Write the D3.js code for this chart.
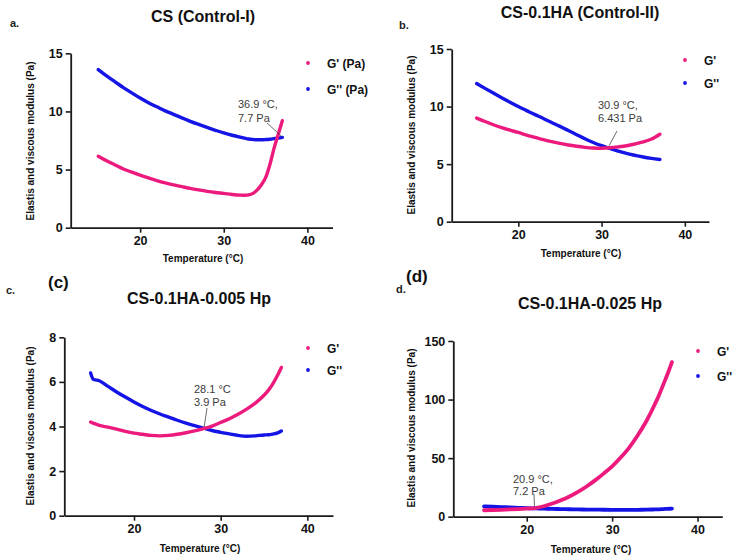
<!DOCTYPE html>
<html><head><meta charset="utf-8">
<script src="https://cdn.jsdelivr.net/npm/d3@7"></script>
<style>
body{margin:0;background:#fff}
text{font-family:"Liberation Sans",Arial,sans-serif}
</style>
</head><body>
<svg id="chart" width="738" height="560"></svg>
<script>
// ---------- data ----------
const tempA   = [15,16,17,18,19,20,21,22,23,24,25,26,27,28,29,30,31,32,32.5,33,33.5,34,34.5,35,35.5,36,36.5,37];
const gPrimeA = [6.15,5.75,5.4,5.05,4.78,4.52,4.28,4.05,3.85,3.68,3.53,3.38,3.25,3.13,3.03,2.95,2.86,2.8,2.79,2.82,2.95,3.25,3.7,4.3,5.4,6.8,8.0,9.2];
const gDoubleA= [13.6,13.05,12.55,12.05,11.6,11.15,10.75,10.4,10.05,9.75,9.45,9.15,8.88,8.62,8.38,8.15,7.95,7.78,7.7,7.63,7.59,7.56,7.56,7.58,7.61,7.66,7.71,7.77];

const tempB   = [15,16,17,18,19,20,21,22,23,24,25,26,27,28,29,30,31,32,33,34,35,36,37];
const gPrimeB = [9.0,8.7,8.42,8.17,7.95,7.75,7.52,7.32,7.12,6.95,6.8,6.66,6.55,6.46,6.4,6.38,6.42,6.5,6.6,6.75,6.93,7.18,7.6];
const gDoubleB= [12.0,11.58,11.17,10.77,10.38,10.0,9.65,9.3,8.97,8.62,8.28,7.92,7.56,7.2,6.88,6.6,6.36,6.12,5.93,5.77,5.62,5.5,5.4];

const tempC   = [15,15.3,16,17,18,19,20,21,22,23,24,25,26,27,28,29,30,31,32,33,34,35,35.5,36,36.5,37];
const gPrimeC = [4.2,4.15,4.05,3.97,3.88,3.78,3.7,3.65,3.6,3.58,3.6,3.65,3.72,3.8,3.9,4.02,4.18,4.35,4.55,4.78,5.05,5.4,5.62,5.9,6.25,6.65];
const gDoubleC= [6.4,6.12,6.05,5.8,5.55,5.32,5.1,4.9,4.72,4.56,4.42,4.28,4.15,4.04,3.93,3.82,3.74,3.67,3.6,3.56,3.58,3.62,3.63,3.66,3.7,3.8];

const tempD   = [15,16,17,18,19,20,21,22,23,24,25,26,27,28,29,30,31,32,33,34,35,35.5,36,36.5,37];
const gPrimeD = [5.5,5.7,5.9,6.2,6.5,6.9,7.4,8.9,11.2,14,17.3,21.2,25.8,31,36.8,43,50.5,59,69.5,81.5,96,104,113,122,132];
const gDoubleD= [8.8,8.5,8.2,7.9,7.6,7.35,7.1,6.9,6.7,6.5,6.35,6.2,6.1,6.0,5.95,5.9,5.85,5.85,5.9,6.0,6.2,6.3,6.5,6.7,6.9];

const xTicks   = [20,30,40];
const yTicksAB = [0,5,10,15];
const yTicksC  = [0,2,4,6,8];
const yTicksD  = [0,50,100,150];

const titles  = ["CS (Control-I)","CS-0.1HA (Control-II)","CS-0.1HA-0.005 Hp","CS-0.1HA-0.025 Hp"];
const legendA = ["G' (Pa)","G'' (Pa)"];
const legendBCD = ["G'","G''"];
const crossA = [36.9, 7.7], crossB = [30.9, 6.431], crossC = [28.1, 3.9], crossD = [20.9, 7.2];
const crossTextA = ["36.9 °C,","7.7 Pa"], crossTextB = ["30.9 °C,","6.431 Pa"],
      crossTextC = ["28.1 °C","3.9 Pa"], crossTextD = ["20.9  °C,","7.2 Pa"];

const PINK = "#ec1a7d", BLUE = "#1414e6", AXIS = "#1a1a1a";

// ---------- layout ----------
const panels = [
 {t:tempA,gp:gPrimeA,gd:gDoubleA,title:titles[0],titleX:203,titleY:22,tag:"a.",tagX:10,tagY:27,
  xDom:[11.7,43],xR:[70.7,332.5],yDom:[0,15],yR:[227.7,53.3],yT:yTicksAB,
  leg:legendA,legX:308,legY:[63,89],ylabX:34,ylabY:141,xlabX:203,xlabY:262,
  cross:crossA,ct:crossTextA,ctX:238,ctY:[107.5,121.5],lineFrom:[267,123],sw:3.4},
 {t:tempB,gp:gPrimeB,gd:gDoubleB,title:titles[1],titleX:580,titleY:18,tag:"b.",tagX:399,tagY:29,
  xDom:[12,42.9],xR:[451.7,709],yDom:[0,15],yR:[221.7,49],yT:yTicksAB,
  leg:legendBCD,legX:685,legY:[60,83],ylabX:415,ylabY:135,xlabX:581,xlabY:256.5,
  cross:crossB,ct:crossTextB,ctX:598,ctY:[109,121.5],lineFrom:[617,131],sw:3.4},
 {t:tempC,gp:gPrimeC,gd:gDoubleC,title:titles[2],titleX:199,titleY:304,tag:"c.",tagX:6,tagY:294,
  xDom:[11.96,42.96],xR:[64.3,333],yDom:[0,8],yR:[515.7,337.3],yT:yTicksC,
  leg:legendBCD,legX:308,legY:[348,370],ylabX:34,ylabY:426,xlabX:200,xlabY:551.5,
  cross:crossC,ct:crossTextC,ctX:194,ctY:[393,405.5],lineFrom:[207,408],sw:3.4},
 {t:tempD,gp:gPrimeD,gd:gDoubleD,title:titles[3],titleX:590,titleY:309,tag:"d.",tagX:396,tagY:293,
  xDom:[11.4,42.9],xR:[453.3,722.3],yDom:[0,150],yR:[516.7,341],yT:yTicksD,
  leg:legendBCD,legX:698,legY:[351,376],ylabX:415,ylabY:428,xlabX:591,xlabY:552.5,
  cross:crossD,ct:crossTextD,ctX:513,ctY:[482.5,494.5],lineFrom:[534,494],sw:3.8}
];

const svg = d3.select("#chart");

panels.forEach(p => {
  const g = svg.append("g");
  const x = d3.scaleLinear().domain(p.xDom).range(p.xR);
  const y = d3.scaleLinear().domain(p.yDom).range(p.yR);

  // axes
  const xa = g.append("g").attr("transform",`translate(0,${p.yR[0]})`)
    .call(d3.axisBottom(x).tickValues(xTicks).tickSize(5).tickSizeOuter(0).tickPadding(3));
  const ya = g.append("g").attr("transform",`translate(${p.xR[0]},0)`)
    .call(d3.axisLeft(y).tickValues(p.yT).tickSize(5).tickSizeOuter(0).tickPadding(3));
  [xa,ya].forEach(a=>{
    a.select(".domain").attr("stroke",AXIS).attr("stroke-width",1.8);
    a.selectAll(".tick line").attr("stroke",AXIS).attr("stroke-width",1.6);
    a.selectAll(".tick text").attr("fill","#111").attr("font-size",12.5).attr("font-weight","bold")
      .style("font-family","'Liberation Sans',Arial,sans-serif");
  });

  // series
  const line = (vals) => d3.line().curve(d3.curveMonotoneX)
      .x((d,i)=>x(p.t[i])).y(d=>y(d))(vals);
  [[p.gd,BLUE],[p.gp,PINK]].forEach(([vals,col])=>{
    g.append("path").attr("d",line(vals)).attr("fill","none").attr("stroke",col)
      .attr("stroke-width",p.sw).attr("stroke-linecap","round").attr("stroke-linejoin","round");
  });

  // crossover annotation
  const cx = x(p.cross[0]), cy = y(p.cross[1]);
  g.append("line").attr("x1",p.lineFrom[0]).attr("y1",p.lineFrom[1])
    .attr("x2",cx).attr("y2",cy-2)
    .attr("stroke","#444").attr("stroke-width",0.8);
  p.ct.forEach((s,i)=>g.append("text").attr("x",p.ctX).attr("y",p.ctY[i])
    .attr("font-size",11).attr("fill","#3a3a3a").text(s));

  // legend
  [[p.leg[0],PINK],[p.leg[1],BLUE]].forEach(([s,col],i)=>{
    g.append("circle").attr("cx",p.legX).attr("cy",p.legY[i]).attr("r",1.9).attr("fill",col);
    g.append("text").attr("x",p.legX+19).attr("y",p.legY[i]+4.5).attr("font-size",12)
      .attr("font-weight","bold").attr("fill","#111").text(s);
  });

  // titles / labels
  g.append("text").attr("x",p.titleX).attr("y",p.titleY).attr("text-anchor","middle")
    .attr("font-size",16).attr("font-weight","bold").attr("fill","#111").text(p.title);
  g.append("text").attr("x",p.tagX).attr("y",p.tagY).attr("font-size",11)
    .attr("font-weight","bold").attr("fill","#222").text(p.tag);
  g.append("text").attr("transform",`translate(${p.ylabX},${p.ylabY}) rotate(-90)`)
    .attr("text-anchor","middle").attr("font-size",10).attr("font-weight","bold").attr("fill","#111")
    .text("Elastis and viscous modulus (Pa)");
  g.append("text").attr("x",p.xlabX).attr("y",p.xlabY).attr("text-anchor","middle")
    .attr("font-size",10).attr("font-weight","bold").attr("fill","#111").text("Temperature (°C)");
});

// sub-figure markers
svg.append("text").attr("x",48).attr("y",288).attr("font-size",17).attr("font-weight","bold")
  .attr("fill","#111").text("(c)");
svg.append("text").attr("x",406).attr("y",282).attr("font-size",17).attr("font-weight","bold")
  .attr("fill","#111").text("(d)");
</script>
</body></html>
